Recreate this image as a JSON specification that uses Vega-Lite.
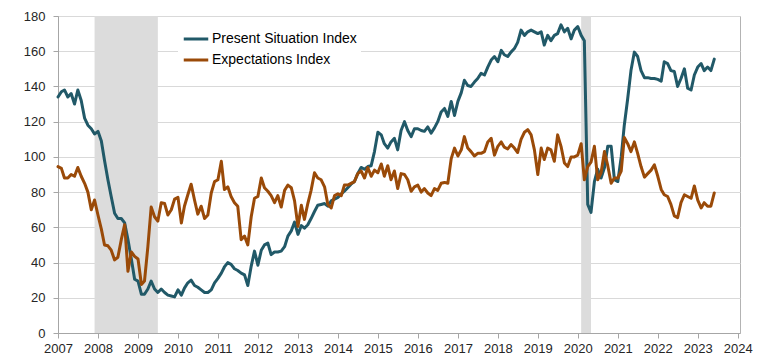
{
  "$schema": "https://vega.github.io/schema/vega-lite/v6.json",
  "width": 682,
  "height": 317,
  "autosize": {"type": "none"},
  "padding": {"left": 58, "top": 16, "right": 20, "bottom": 26},
  "background": "white",
  "config": {
    "view": {"stroke": "#b3b3b3", "strokeWidth": 1},
    "font": "Liberation Sans",
    "axis": {"labelFont": "Liberation Sans", "labelFontSize": 13, "labelColor": "#262626", "domainColor": "#a6a6a6", "tickColor": "#a6a6a6", "tickSize": 5, "title": null}
  },
  "datasets": {
    "rec": [
      {"start": "2007-12-01", "end": "2009-07-01"},
      {"start": "2020-02-01", "end": "2020-05-01"}
    ],
    "idx": [
      {"date": "2007-01-01", "p": 134, "e": 94.5},
      {"date": "2007-02-01", "p": 137, "e": 93.5},
      {"date": "2007-03-01", "p": 138, "e": 88},
      {"date": "2007-04-01", "p": 134, "e": 88},
      {"date": "2007-05-01", "p": 136, "e": 90},
      {"date": "2007-06-01", "p": 130, "e": 89},
      {"date": "2007-07-01", "p": 138, "e": 94},
      {"date": "2007-08-01", "p": 132, "e": 89},
      {"date": "2007-09-01", "p": 122, "e": 85},
      {"date": "2007-10-01", "p": 118, "e": 80},
      {"date": "2007-11-01", "p": 116, "e": 70},
      {"date": "2007-12-01", "p": 113, "e": 75.5},
      {"date": "2008-01-01", "p": 114.5, "e": 67},
      {"date": "2008-02-01", "p": 109, "e": 59},
      {"date": "2008-03-01", "p": 98, "e": 50},
      {"date": "2008-04-01", "p": 87, "e": 49.5},
      {"date": "2008-05-01", "p": 77.5, "e": 47},
      {"date": "2008-06-01", "p": 68, "e": 41.5},
      {"date": "2008-07-01", "p": 65, "e": 43},
      {"date": "2008-08-01", "p": 65, "e": 53},
      {"date": "2008-09-01", "p": 62.5, "e": 61.5},
      {"date": "2008-10-01", "p": 53, "e": 35},
      {"date": "2008-11-01", "p": 42, "e": 46},
      {"date": "2008-12-01", "p": 30.5, "e": 43.5},
      {"date": "2009-01-01", "p": 29.5, "e": 42},
      {"date": "2009-02-01", "p": 22, "e": 27.5},
      {"date": "2009-03-01", "p": 22, "e": 29.5},
      {"date": "2009-04-01", "p": 25, "e": 49},
      {"date": "2009-05-01", "p": 29.5, "e": 71.5},
      {"date": "2009-06-01", "p": 25, "e": 66},
      {"date": "2009-07-01", "p": 23, "e": 63.5},
      {"date": "2009-08-01", "p": 25, "e": 74},
      {"date": "2009-09-01", "p": 23, "e": 73.5},
      {"date": "2009-10-01", "p": 21.5, "e": 67},
      {"date": "2009-11-01", "p": 21, "e": 70},
      {"date": "2009-12-01", "p": 20.5, "e": 76},
      {"date": "2010-01-01", "p": 24.5, "e": 77},
      {"date": "2010-02-01", "p": 21.5, "e": 62.5},
      {"date": "2010-03-01", "p": 25.5, "e": 72},
      {"date": "2010-04-01", "p": 28.5, "e": 78.5},
      {"date": "2010-05-01", "p": 30, "e": 84.5},
      {"date": "2010-06-01", "p": 27, "e": 75.5},
      {"date": "2010-07-01", "p": 26, "e": 67.5},
      {"date": "2010-08-01", "p": 24.5, "e": 72},
      {"date": "2010-09-01", "p": 23, "e": 65},
      {"date": "2010-10-01", "p": 23, "e": 67},
      {"date": "2010-11-01", "p": 24.5, "e": 79.5},
      {"date": "2010-12-01", "p": 28.5, "e": 86},
      {"date": "2011-01-01", "p": 31, "e": 87},
      {"date": "2011-02-01", "p": 34, "e": 97.5},
      {"date": "2011-03-01", "p": 37.5, "e": 81.5},
      {"date": "2011-04-01", "p": 40, "e": 83},
      {"date": "2011-05-01", "p": 39, "e": 77.5},
      {"date": "2011-06-01", "p": 36.5, "e": 74},
      {"date": "2011-07-01", "p": 35.5, "e": 72},
      {"date": "2011-08-01", "p": 34, "e": 53},
      {"date": "2011-09-01", "p": 33, "e": 55},
      {"date": "2011-10-01", "p": 27, "e": 50},
      {"date": "2011-11-01", "p": 38, "e": 66},
      {"date": "2011-12-01", "p": 46.5, "e": 76.5},
      {"date": "2012-01-01", "p": 38.5, "e": 77.5},
      {"date": "2012-02-01", "p": 47, "e": 88},
      {"date": "2012-03-01", "p": 50, "e": 82.5},
      {"date": "2012-04-01", "p": 51, "e": 80.5},
      {"date": "2012-05-01", "p": 44.5, "e": 78},
      {"date": "2012-06-01", "p": 46, "e": 74},
      {"date": "2012-07-01", "p": 46, "e": 78},
      {"date": "2012-08-01", "p": 46.5, "e": 71.5},
      {"date": "2012-09-01", "p": 49, "e": 81},
      {"date": "2012-10-01", "p": 55, "e": 84},
      {"date": "2012-11-01", "p": 58, "e": 82.5},
      {"date": "2012-12-01", "p": 63, "e": 75},
      {"date": "2013-01-01", "p": 56, "e": 60.5},
      {"date": "2013-02-01", "p": 61, "e": 72.5},
      {"date": "2013-03-01", "p": 59.5, "e": 64.5},
      {"date": "2013-04-01", "p": 61.5, "e": 73.5},
      {"date": "2013-05-01", "p": 65, "e": 81},
      {"date": "2013-06-01", "p": 69, "e": 91},
      {"date": "2013-07-01", "p": 72.5, "e": 88},
      {"date": "2013-08-01", "p": 73, "e": 87},
      {"date": "2013-09-01", "p": 73.5, "e": 83},
      {"date": "2013-10-01", "p": 72, "e": 73},
      {"date": "2013-11-01", "p": 75, "e": 71},
      {"date": "2013-12-01", "p": 76, "e": 78},
      {"date": "2014-01-01", "p": 77, "e": 79},
      {"date": "2014-02-01", "p": 79, "e": 78},
      {"date": "2014-03-01", "p": 80.5, "e": 84},
      {"date": "2014-04-01", "p": 82.5, "e": 84},
      {"date": "2014-05-01", "p": 84.5, "e": 85},
      {"date": "2014-06-01", "p": 86, "e": 86},
      {"date": "2014-07-01", "p": 90.5, "e": 90.5},
      {"date": "2014-08-01", "p": 94, "e": 92},
      {"date": "2014-09-01", "p": 93, "e": 88},
      {"date": "2014-10-01", "p": 94.5, "e": 94},
      {"date": "2014-11-01", "p": 95, "e": 89},
      {"date": "2014-12-01", "p": 103, "e": 92.5},
      {"date": "2015-01-01", "p": 114, "e": 91},
      {"date": "2015-02-01", "p": 112.5, "e": 96},
      {"date": "2015-03-01", "p": 107.5, "e": 89},
      {"date": "2015-04-01", "p": 105, "e": 95},
      {"date": "2015-05-01", "p": 108.5, "e": 87},
      {"date": "2015-06-01", "p": 110.5, "e": 92},
      {"date": "2015-07-01", "p": 104, "e": 82},
      {"date": "2015-08-01", "p": 115, "e": 90.5},
      {"date": "2015-09-01", "p": 120, "e": 90},
      {"date": "2015-10-01", "p": 115, "e": 87},
      {"date": "2015-11-01", "p": 111.5, "e": 80.5},
      {"date": "2015-12-01", "p": 116, "e": 83},
      {"date": "2016-01-01", "p": 116, "e": 84},
      {"date": "2016-02-01", "p": 115, "e": 80},
      {"date": "2016-03-01", "p": 114.5, "e": 82},
      {"date": "2016-04-01", "p": 117, "e": 79.5},
      {"date": "2016-05-01", "p": 113.5, "e": 78},
      {"date": "2016-06-01", "p": 116.5, "e": 82},
      {"date": "2016-07-01", "p": 120, "e": 81},
      {"date": "2016-08-01", "p": 125.5, "e": 85},
      {"date": "2016-09-01", "p": 127.5, "e": 85.5},
      {"date": "2016-10-01", "p": 123, "e": 85},
      {"date": "2016-11-01", "p": 131.5, "e": 99},
      {"date": "2016-12-01", "p": 123.5, "e": 105},
      {"date": "2017-01-01", "p": 131.5, "e": 100.5},
      {"date": "2017-02-01", "p": 136.5, "e": 104},
      {"date": "2017-03-01", "p": 143.5, "e": 111.5},
      {"date": "2017-04-01", "p": 140.5, "e": 105},
      {"date": "2017-05-01", "p": 140, "e": 103},
      {"date": "2017-06-01", "p": 142.5, "e": 100.5},
      {"date": "2017-07-01", "p": 144.5, "e": 102},
      {"date": "2017-08-01", "p": 147.5, "e": 102},
      {"date": "2017-09-01", "p": 146.5, "e": 103},
      {"date": "2017-10-01", "p": 151, "e": 108.5},
      {"date": "2017-11-01", "p": 155, "e": 110.5},
      {"date": "2017-12-01", "p": 157, "e": 101},
      {"date": "2018-01-01", "p": 154, "e": 106},
      {"date": "2018-02-01", "p": 160.5, "e": 108.5},
      {"date": "2018-03-01", "p": 158, "e": 105.5},
      {"date": "2018-04-01", "p": 157, "e": 104.5},
      {"date": "2018-05-01", "p": 159.5, "e": 107},
      {"date": "2018-06-01", "p": 161.5, "e": 105},
      {"date": "2018-07-01", "p": 165, "e": 102.5},
      {"date": "2018-08-01", "p": 172, "e": 110},
      {"date": "2018-09-01", "p": 169, "e": 114},
      {"date": "2018-10-01", "p": 171, "e": 115.5},
      {"date": "2018-11-01", "p": 172, "e": 112.5},
      {"date": "2018-12-01", "p": 171, "e": 104},
      {"date": "2019-01-01", "p": 170, "e": 90},
      {"date": "2019-02-01", "p": 171, "e": 105},
      {"date": "2019-03-01", "p": 163.5, "e": 98.5},
      {"date": "2019-04-01", "p": 169, "e": 105},
      {"date": "2019-05-01", "p": 166, "e": 104},
      {"date": "2019-06-01", "p": 169, "e": 97.5},
      {"date": "2019-07-01", "p": 170, "e": 112.5},
      {"date": "2019-08-01", "p": 175, "e": 106},
      {"date": "2019-09-01", "p": 171, "e": 96.5},
      {"date": "2019-10-01", "p": 173, "e": 94.5},
      {"date": "2019-11-01", "p": 167, "e": 100},
      {"date": "2019-12-01", "p": 172, "e": 100},
      {"date": "2020-01-01", "p": 174, "e": 101},
      {"date": "2020-02-01", "p": 169, "e": 107.5},
      {"date": "2020-03-01", "p": 166, "e": 87},
      {"date": "2020-04-01", "p": 73, "e": 94.5},
      {"date": "2020-05-01", "p": 68.5, "e": 97},
      {"date": "2020-06-01", "p": 86, "e": 106},
      {"date": "2020-07-01", "p": 93, "e": 87},
      {"date": "2020-08-01", "p": 88, "e": 91},
      {"date": "2020-09-01", "p": 94, "e": 103},
      {"date": "2020-10-01", "p": 106, "e": 95},
      {"date": "2020-11-01", "p": 106, "e": 85},
      {"date": "2020-12-01", "p": 87, "e": 88},
      {"date": "2021-01-01", "p": 86, "e": 88},
      {"date": "2021-02-01", "p": 100, "e": 92},
      {"date": "2021-03-01", "p": 118, "e": 111},
      {"date": "2021-04-01", "p": 133, "e": 107.5},
      {"date": "2021-05-01", "p": 149, "e": 103},
      {"date": "2021-06-01", "p": 159.5, "e": 108.5},
      {"date": "2021-07-01", "p": 157, "e": 102},
      {"date": "2021-08-01", "p": 149, "e": 94.5},
      {"date": "2021-09-01", "p": 145, "e": 88.5},
      {"date": "2021-10-01", "p": 145, "e": 90.5},
      {"date": "2021-11-01", "p": 144.5, "e": 92.5},
      {"date": "2021-12-01", "p": 144.5, "e": 95.5},
      {"date": "2022-01-01", "p": 144, "e": 89},
      {"date": "2022-02-01", "p": 143, "e": 81.5},
      {"date": "2022-03-01", "p": 154, "e": 78.5},
      {"date": "2022-04-01", "p": 153, "e": 77.5},
      {"date": "2022-05-01", "p": 149, "e": 73},
      {"date": "2022-06-01", "p": 148.5, "e": 66.5},
      {"date": "2022-07-01", "p": 140, "e": 65.5},
      {"date": "2022-08-01", "p": 144.5, "e": 74},
      {"date": "2022-09-01", "p": 150, "e": 78.5},
      {"date": "2022-10-01", "p": 139, "e": 77.5},
      {"date": "2022-11-01", "p": 138, "e": 76.5},
      {"date": "2022-12-01", "p": 146.5, "e": 83.5},
      {"date": "2023-01-01", "p": 151, "e": 75.5},
      {"date": "2023-02-01", "p": 153, "e": 71},
      {"date": "2023-03-01", "p": 149, "e": 74},
      {"date": "2023-04-01", "p": 151, "e": 72},
      {"date": "2023-05-01", "p": 149, "e": 72},
      {"date": "2023-06-01", "p": 155.5, "e": 79.5}
    ]
  },
  "layer": [
    {
      "data": {"name": "rec"},
      "mark": {"type": "rect", "color": "#dcdcdc"},
      "encoding": {
        "x": {"field": "start", "type": "temporal", "scale": {"type": "utc", "domain": ["2007-01-01", "2024-01-22"]},
          "axis": {"values": [{"year": 2007, "utc": true}, {"year": 2008, "utc": true}, {"year": 2009, "utc": true}, {"year": 2010, "utc": true}, {"year": 2011, "utc": true}, {"year": 2012, "utc": true}, {"year": 2013, "utc": true}, {"year": 2014, "utc": true}, {"year": 2015, "utc": true}, {"year": 2016, "utc": true}, {"year": 2017, "utc": true}, {"year": 2018, "utc": true}, {"year": 2019, "utc": true}, {"year": 2020, "utc": true}, {"year": 2021, "utc": true}, {"year": 2022, "utc": true}, {"year": 2023, "utc": true}, {"year": 2024, "utc": true}],
            "format": "%Y", "formatType": "utc", "grid": false, "labelPadding": 4, "labelFlush": false, "labelOverlap": false}},
        "x2": {"field": "end"}
      }
    },
    {
      "data": {"name": "idx"},
      "transform": [{"fold": ["p", "e"], "as": ["s", "v"]}],
      "mark": {"type": "line", "strokeWidth": 3, "strokeJoin": "round", "strokeCap": "round"},
      "encoding": {
        "x": {"field": "date", "type": "temporal", "scale": {"type": "utc", "domain": ["2007-01-01", "2024-01-22"]}},
        "y": {"field": "v", "type": "quantitative", "scale": {"domain": [0, 180]},
          "axis": {"values": [0, 20, 40, 60, 80, 100, 120, 140, 160, 180], "grid": true, "gridColor": "#d9d9d9", "labelPadding": 8}},
        "color": {"field": "s", "type": "nominal",
          "scale": {"domain": ["p", "e"], "range": ["#215968", "#9A4A08"]},
          "legend": {"orient": "none", "legendX": 120, "legendY": 5, "title": null, "fillColor": "white", "padding": 4,
            "symbolType": "stroke", "symbolStrokeWidth": 3, "symbolSize": 600, "labelFontSize": 14, "labelFont": "Liberation Sans", "labelColor": "#000000", "labelOffset": 2, "rowPadding": -2,
            "labelExpr": "datum.value == 'p' ? 'Present Situation Index' : 'Expectations Index'"}}
      }
    }
  ]
}
